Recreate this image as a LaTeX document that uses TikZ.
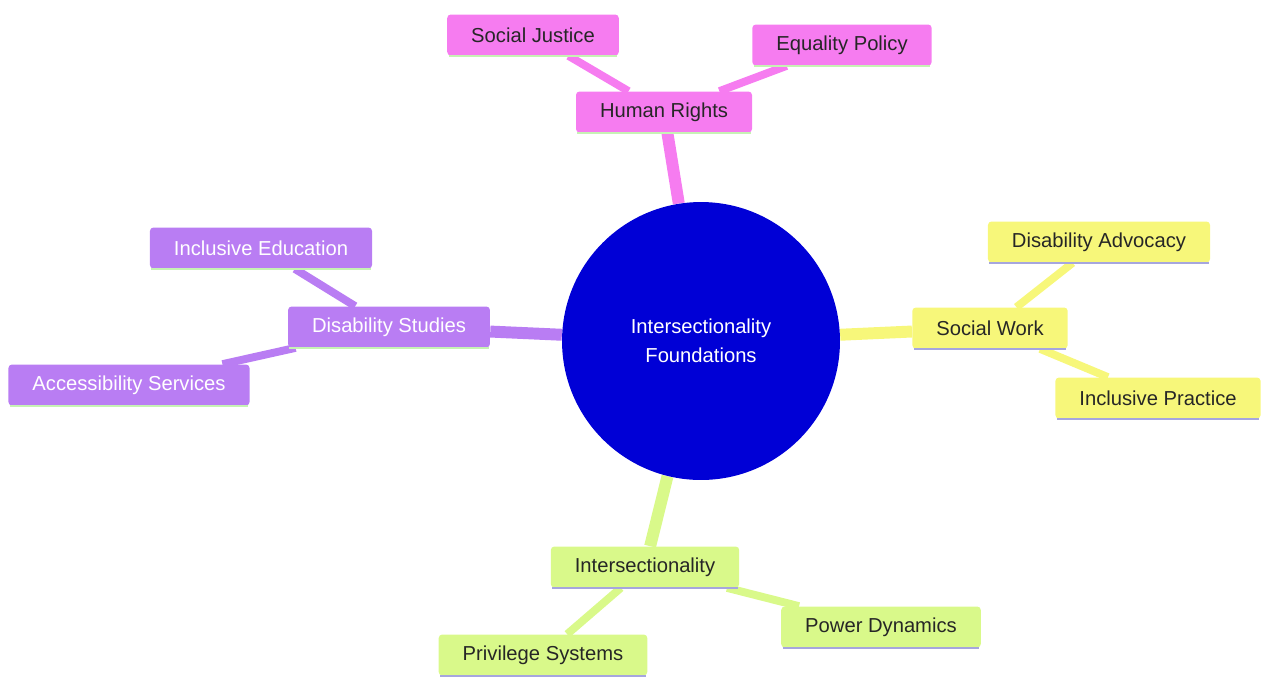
\documentclass[tikz,border=0pt]{standalone}
\usepackage{fontspec}
\setmainfont{Liberation Sans}
\usetikzlibrary{backgrounds}
\definecolor{pinkbr}{HTML}{F67CF0}
\definecolor{violetbr}{HTML}{B97DF3}
\definecolor{yellowbr}{HTML}{F7F77A}
\definecolor{limebr}{HTML}{D9F98A}
\definecolor{core}{HTML}{0000D6}
\definecolor{lineA}{HTML}{C6F2B4}
\definecolor{lineB}{HTML}{A6A6DE}
\begin{document}
\begin{tikzpicture}[x=0.02cm, y=-0.02cm, line cap=round, font=\fontsize{11.5}{16.5}\selectfont,
	topic/.style={rectangle, rounded corners=2pt, minimum height=0.82cm, inner xsep=0.48cm, text=black!85},
	main/.style={line width=6.8pt}, leaf/.style={line width=4.5pt}]
	\useasboundingbox (0,0) rectangle (1263,677);
	\def\r{5.56cm} % root size
	\node[circle, fill=core, minimum size=\r, inner sep=0pt, text=white, align=center] (root) at (701,341) {Intersectionality\\Foundations};
	% Human Rights
	\node[topic, fill=pinkbr] (hr) at (664,112) {Human Rights};
	\node[topic, fill=pinkbr] (sj) at (533,35) {Social Justice};
	\node[topic, fill=pinkbr] (ep) at (842,45) {Equality Policy};
	% Disability Studies
	\node[topic, fill=violetbr, text=white] (ds) at (389,327) {Disability Studies};
	\node[topic, fill=violetbr, text=white] (ie) at (261,248) {Inclusive Education};
	\node[topic, fill=violetbr, text=white] (as) at (129,385) {Accessibility Services};
	% Social Work
	\node[topic, fill=yellowbr] (sw) at (990,328) {Social Work};
	\node[topic, fill=yellowbr] (da) at (1099,242) {Disability Advocacy};
	\node[topic, fill=yellowbr] (ip) at (1158,398) {Inclusive Practice};
	% Intersectionality
	\node[topic, fill=limebr] (it) at (645,567) {Intersectionality};
	\node[topic, fill=limebr] (ps) at (543,655) {Privilege Systems};
	\node[topic, fill=limebr] (pd) at (881,627) {Power Dynamics};
	\begin{scope}[on background layer]
		\draw[main, pinkbr] (root)--(hr);
		\draw[main, violetbr] (root)--(ds);
		\draw[main, yellowbr] (root)--(sw);
		\draw[main, limebr] (root)--(it);
		\foreach \a in {sj,ep} \draw[leaf, pinkbr] (hr)--(\a);
		\foreach \a in {ie,as} \draw[leaf, violetbr] (ds)--(\a);
		\foreach \a in {da,ip} \draw[leaf, yellowbr] (sw)--(\a);
		\foreach \a in {ps,pd} \draw[leaf, limebr] (it)--(\a);
	\end{scope}
	\foreach \n in {hr,sj,ep,ds,ie,as} \draw[line width=1.5pt, line cap=butt, lineA] ([xshift=1pt]\n.south west)--([xshift=-1pt]\n.south east);
	\foreach \n in {sw,da,ip,it,ps,pd} \draw[line width=1.5pt, line cap=butt, lineB] ([xshift=1pt]\n.south west)--([xshift=-1pt]\n.south east);
\end{tikzpicture}
\end{document}
